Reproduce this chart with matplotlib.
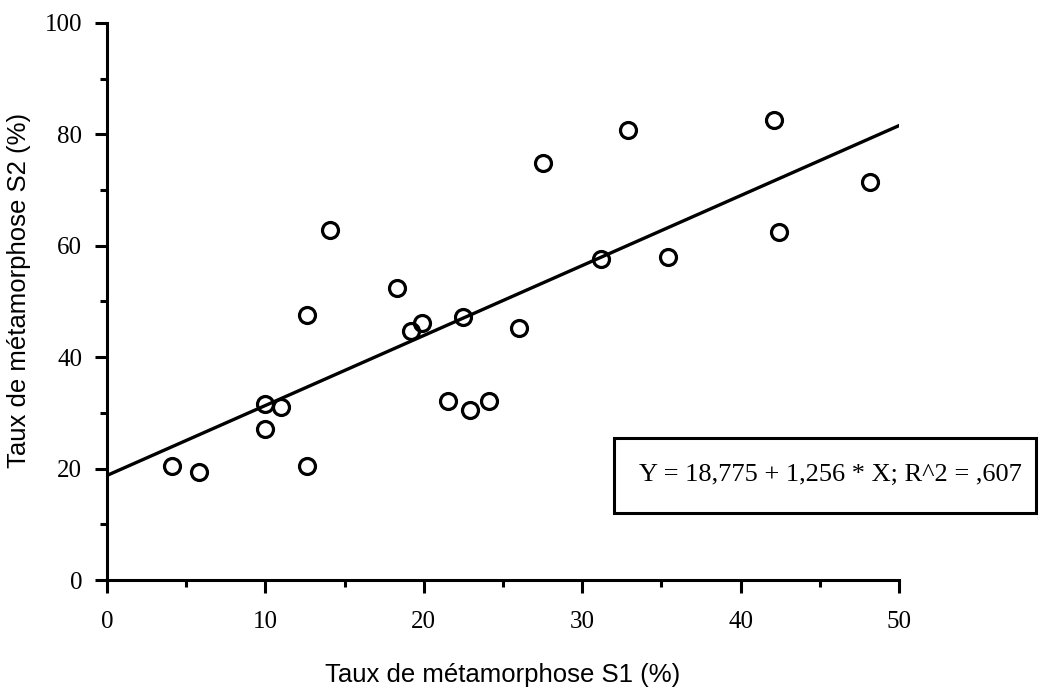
import numpy as np
from matplotlib import pyplot as plt
from matplotlib.patches import Rectangle

# Taux de métamorphose (%) par lot, S1 vs S2
s1 = [4.1, 5.8, 10.0, 10.0, 11.0, 12.6, 12.6, 14.1, 18.3, 19.2, 19.9, 21.5,
      22.5, 22.9, 24.1, 26.0, 27.5, 31.2, 32.9, 35.4, 42.1, 42.4, 48.2]
s2 = [20.5, 19.4, 31.6, 27.1, 31.0, 47.6, 20.5, 62.8, 52.4, 44.7, 46.2, 32.1,
      47.3, 30.5, 32.1, 45.3, 74.8, 57.6, 80.7, 58.0, 82.6, 62.4, 71.4]

# droite de régression
intercept = 18.775
slope = 1.256
r2 = 0.607
eq_text = "Y = 18,775 + 1,256 * X; R^2 = ,607"

x_ticks = [0, 10, 20, 30, 40, 50]
y_ticks = [0, 20, 40, 60, 80, 100]

fig = plt.figure(figsize=(10.41, 6.9), dpi=100)
ax = fig.add_axes([0.1028, 0.1594, 0.7608, 0.8073])

ax.plot(s1, s2, 'o', markersize=11.5, markerfacecolor='none',
        markeredgecolor='black', markeredgewidth=2.3, zorder=3)

xl = np.array([0, 50])
ax.plot(xl, intercept + slope * xl, color='black', linewidth=2.4)

ax.set_xlim(0, 50)
ax.set_ylim(0, 100)
for side in ['top', 'right']:
    ax.spines[side].set_visible(False)
for side in ['left', 'bottom']:
    ax.spines[side].set_linewidth(2.2)

serif = ['Liberation Serif', 'DejaVu Serif']
ax.set_xticks(x_ticks)
ax.set_yticks(y_ticks)
ax.set_xticks(np.arange(5, 50, 10), minor=True)
ax.set_yticks(np.arange(10, 100, 20), minor=True)
ax.set_xticklabels([str(t) for t in x_ticks], family=serif, fontsize=18)
ax.set_yticklabels([str(t) for t in y_ticks], family=serif, fontsize=18)
ax.tick_params(which='major', direction='out', length=9, width=2.2)
ax.tick_params(which='minor', direction='out', length=5, width=2.2)
ax.tick_params(axis='x', which='major', pad=13)
ax.tick_params(axis='y', which='major', pad=9)

sans = ['Liberation Sans', 'DejaVu Sans']
ax.set_xlabel('Taux de métamorphose S1 (%)', family=sans, fontsize=18.5, labelpad=22)
ax.set_ylabel('Taux de métamorphose S2 (%)', family=sans, fontsize=18.5, labelpad=10)
ax.yaxis.label.set_y(0.52)

# encadré avec l'équation
box = Rectangle((614 / 1041, 1 - 513 / 690), (1036 - 614) / 1041, 75 / 690,
                transform=fig.transFigure, facecolor='white', edgecolor='black',
                linewidth=2.2)
fig.add_artist(box)
fig.text(830 / 1041, 1 - 475 / 690, eq_text, family=serif, fontsize=19,
         ha='center', va='center')

plt.savefig('out.png', dpi=100)
